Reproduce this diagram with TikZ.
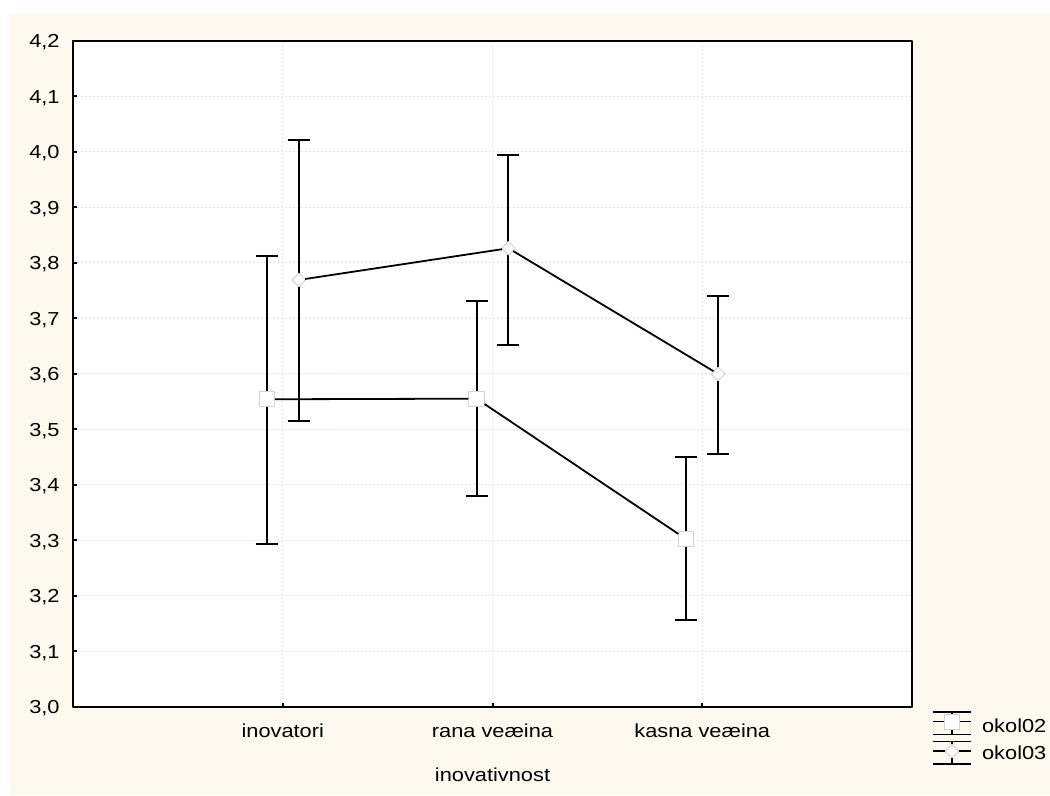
\documentclass[tikz,border=0pt]{standalone}
\usepackage{fontspec}
\setmainfont{Liberation Sans}[FakeStretch=1.16]
\usetikzlibrary{shapes.geometric}
\definecolor{krem}{RGB}{253,249,239}
\definecolor{mreza}{RGB}{230,230,230}
\definecolor{rub}{RGB}{212,212,212}
\tikzset{
	sq/.style={rectangle, draw=rub, fill=white, line width=0.5, minimum size=7.6pt, inner sep=0pt},
	dia/.style={diamond, draw=rub, fill=white, line width=0.5, minimum size=7pt, inner sep=0pt},
	bar/.style={line width=1},
	lbl/.style={font=\fontsize{9.4pt}{11pt}\selectfont, inner sep=0pt},
	grid line/.style={mreza, line width=0.5, dash pattern=on 1pt off 1pt},
}
\begin{document}
\begin{tikzpicture}[x=104.875pt, y=277.5pt, line join=round]
	
	\useasboundingbox (-0.34803,2.83964) rectangle (4.65793,4.27387);
	\fill[krem] (-0.30036,2.84144) rectangle (4.65793,4.24865);
	\fill[white] (0,3) rectangle (4,4.2);
	
	\def\cw{5.5pt}
	
	% mreza i oznake
	\foreach \i in {1,...,11}
	\draw[grid line] (0,{3+\i/10}) -- (4,{3+\i/10});
	\foreach \c in {1,2,3}
	\draw[grid line] (\c,3) -- (\c,4.2);
	\foreach \i in {0,...,12}{
		\pgfmathtruncatemacro\a{(30+\i)/10}
		\pgfmathtruncatemacro\b{mod(\i,10)}
		\draw[line width=1] (0,{3+\i/10}) -- ++(2pt,0);
		\node[lbl, anchor=base east] (y\i) at ([xshift=-6.5pt, yshift=-3.33pt]0,{3+\i/10}) {\a,\b};
	}
	\foreach \c in {1,2,3}
	\draw[line width=1] (\c,3) -- ++(0,2pt);
	\draw[line width=1] (0,3) rectangle (4,4.2);
	
	\node[lbl, anchor=base] (x1) at ([yshift=-15.5pt]1,3) {inovatori};
	\node[lbl, anchor=base] (x2) at ([yshift=-15.5pt]2,3) {rana veæina};
	\node[lbl, anchor=base] (x3) at ([yshift=-15.5pt]3,3) {kasna veæina};
	\node[lbl, anchor=base] (xt) at ([yshift=-37.35pt]2,3) {inovativnost};
	
	% okol02
	\coordinate[] (a1-t) at (0.924,3.8126);
	\coordinate[] (a1-b) at (0.924,3.2937);
	\coordinate[] (a2-t) at (1.924,3.7315);
	\coordinate[] (a2-b) at (1.924,3.3802);
	\coordinate[] (a3-t) at (2.924,3.4505);
	\coordinate[] (a3-b) at (2.924,3.1568);
	% okol03
	\coordinate[] (b1-t) at (1.076,4.0220);
	\coordinate[] (b1-b) at (1.076,3.5159);
	\coordinate[] (b2-t) at (2.076,3.9946);
	\coordinate[] (b2-b) at (2.076,3.6523);
	\coordinate[] (b3-t) at (3.076,3.7405);
	\coordinate[] (b3-b) at (3.076,3.4553);
	
	\foreach \n in {a1,a2,a3,b1,b2,b3}
	\draw[bar] ([xshift=-\cw]\n-t) -- ([xshift=\cw]\n-t)
	(\n-t) -- (\n-b)
	([xshift=-\cw]\n-b) -- ([xshift=\cw]\n-b);
	
	\node[sq] (a1) at (0.924,3.5544) {};
	\node[sq] (a2) at (1.924,3.5555) {};
	\node[sq] (a3) at (2.924,3.3022) {};
	\node[dia] (b1) at (1.076,3.7694) {};
	\node[dia] (b2) at (2.076,3.8265) {};
	\node[dia] (b3) at (3.076,3.6000) {};
	
	\draw[line width=0.9] (a1) -- (a2) (a2) -- (a3);
	\draw[line width=0.9] (b1) -- (b2) (b2) -- (b3);
	
	% legenda
	\coordinate[] (l02) at (4.1907,2.97351);
	\coordinate[] (l03) at (4.1907,2.92072);
	\foreach \l in {l02,l03}
	\draw[line width=0.75] ([shift={(-9.5pt,4.75pt)}]\l) -- ([shift={(9.5pt,4.75pt)}]\l)
	([shift={(-9.5pt,-6.4pt)}]\l) -- ([shift={(9.5pt,-6.4pt)}]\l)
	([yshift=4.75pt]\l) -- ([yshift=-6.4pt]\l)
	([xshift=-9.5pt]\l) -- ([xshift=-3.5pt]\l)
	([xshift=3.5pt]\l) -- ([xshift=9.5pt]\l);
	\node[sq] (m02) at (l02) {};
	\node[dia] (m03) at (l03) {};
	\node[lbl, anchor=base west] (t02) at (4.3323,2.95369) {okol02};
	\node[lbl, anchor=base west] (t03) at (4.3323,2.90450) {okol03};
	
\end{tikzpicture}
\end{document}
